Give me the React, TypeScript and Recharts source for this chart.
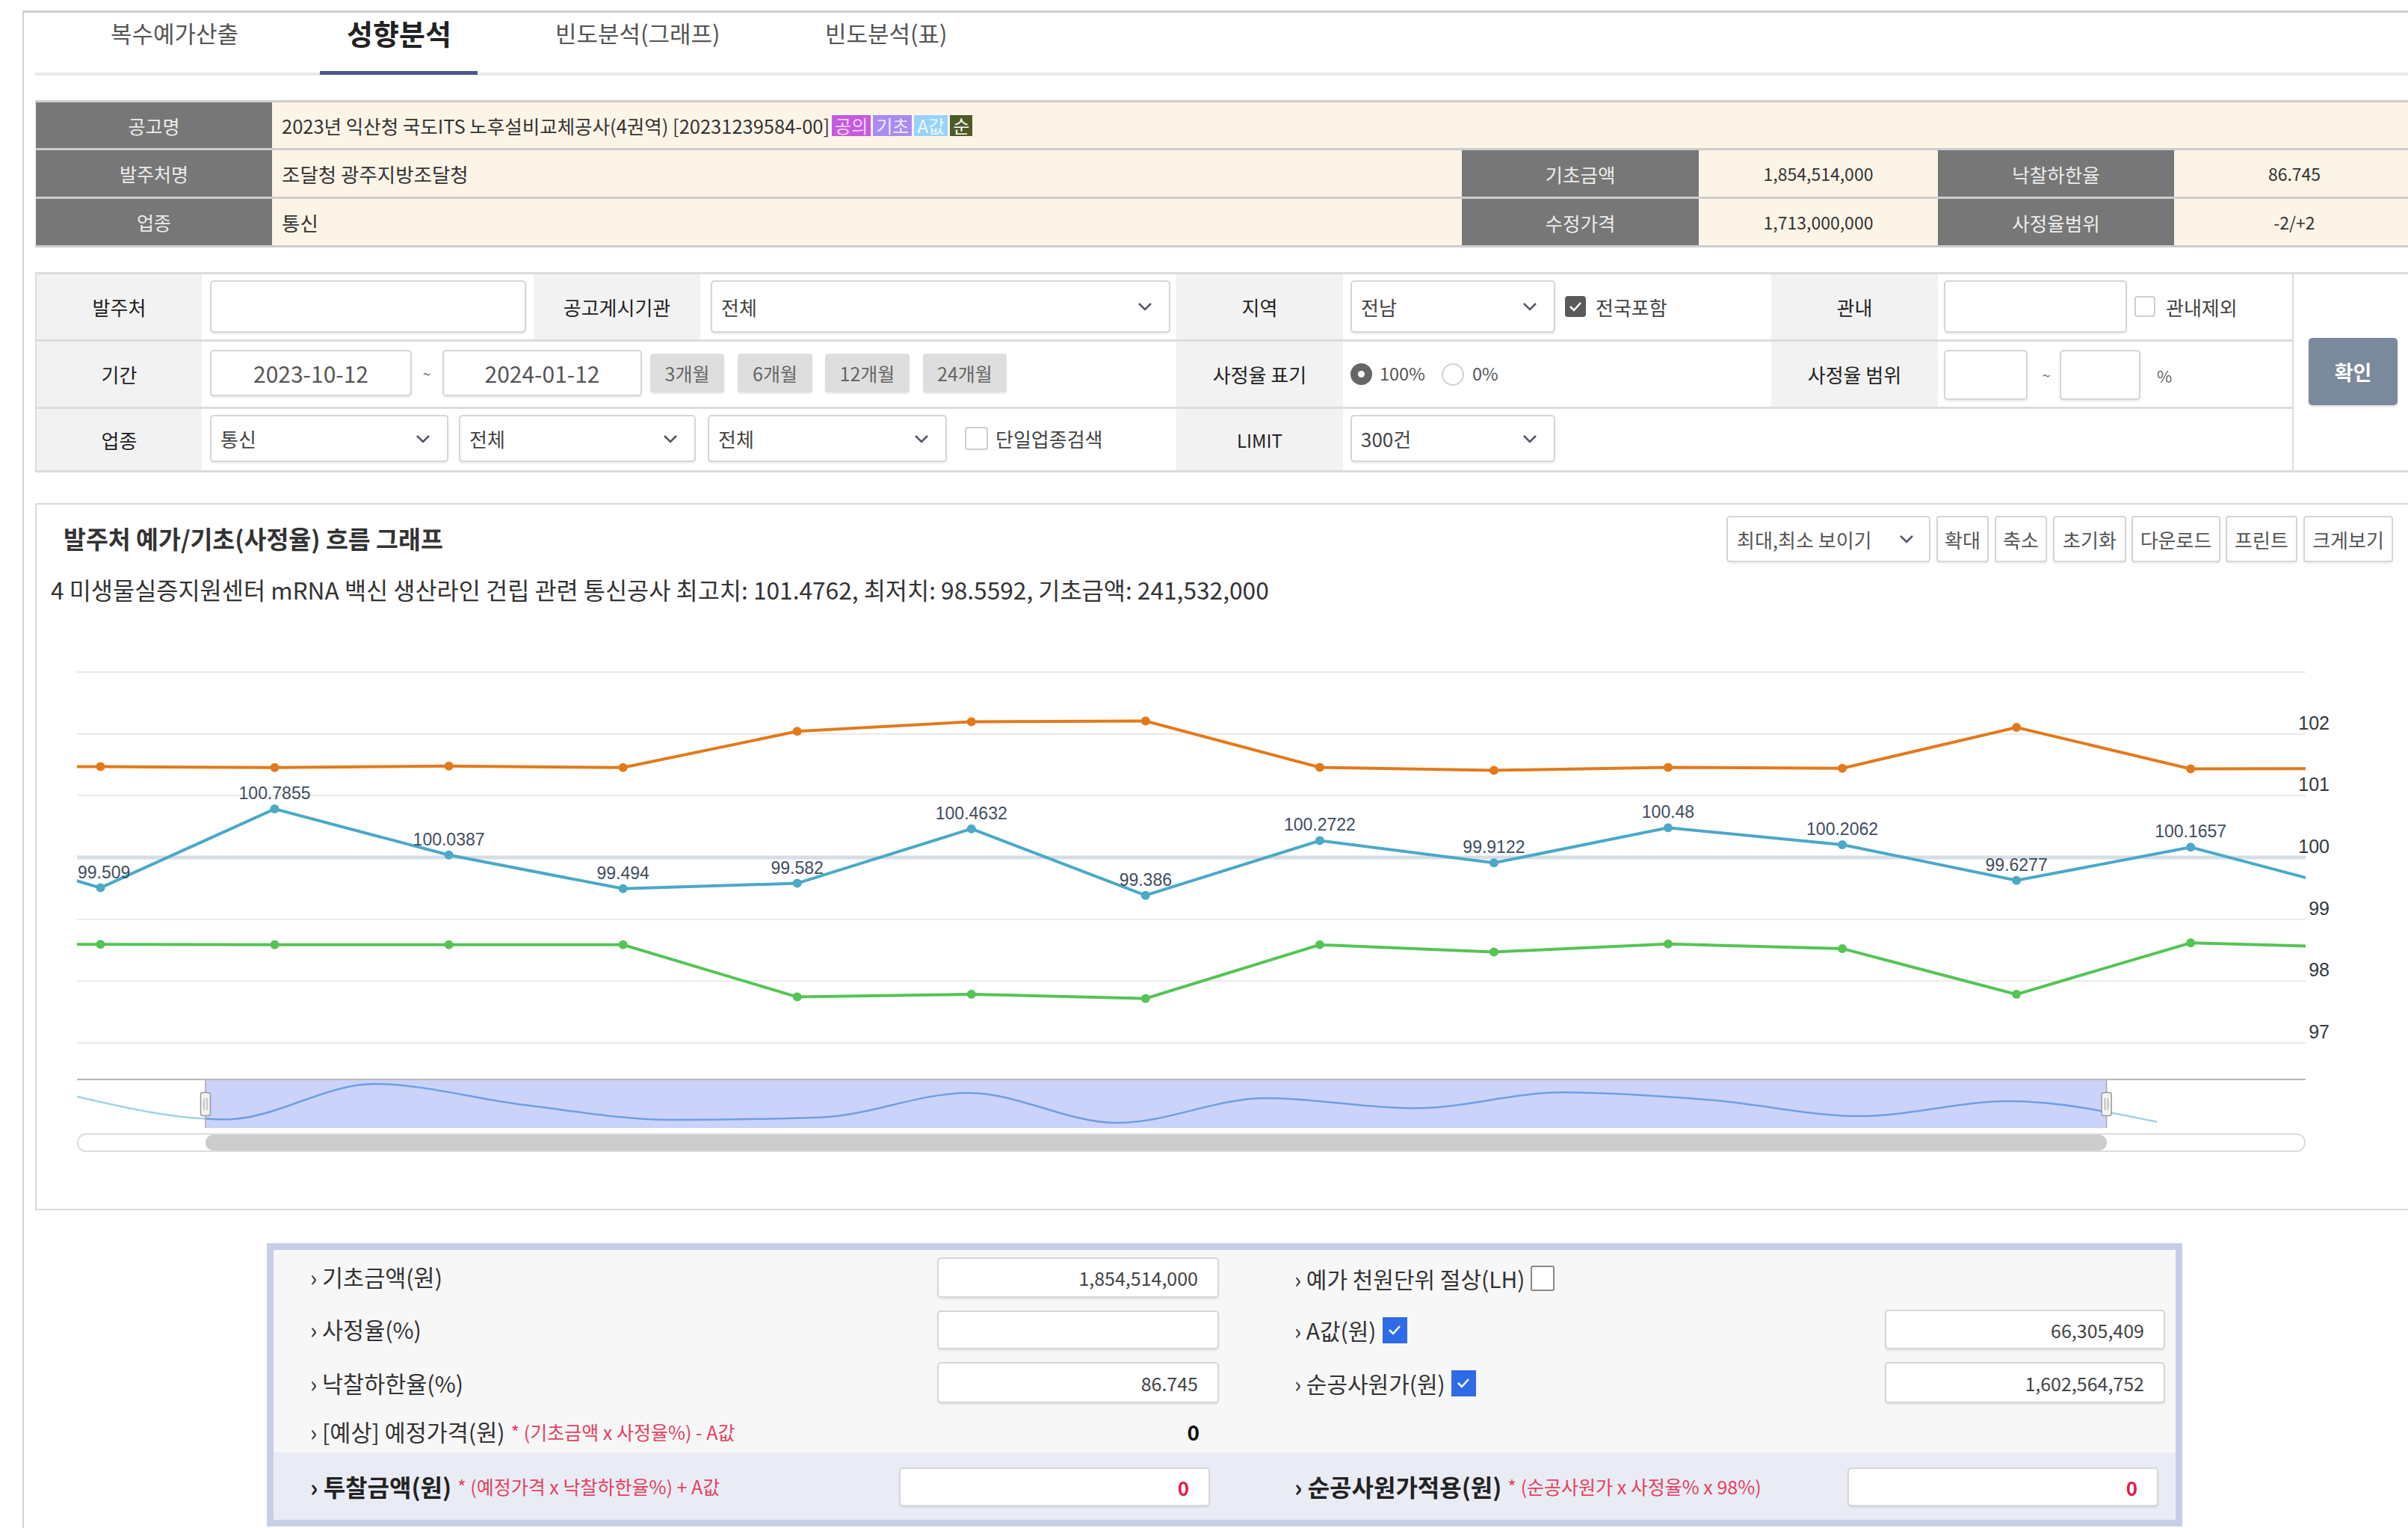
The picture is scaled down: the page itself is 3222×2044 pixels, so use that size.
import React from 'react'
import { LineChart, Line, XAxis, YAxis, CartesianGrid, ReferenceLine, ReferenceArea, LabelList } from 'recharts'

// 순번 (0, 14 는 화면 밖 - 네비게이터로만 보임)
const seq = [0, 1, 2, 3, 4, 5, 6, 7, 8, 9, 10, 11, 12, 13, 14]
// 최고 사정율
const upperRate = [101.47, 101.469, 101.455, 101.478, 101.455, 102.04, 102.196, 102.207, 101.458, 101.41, 101.458, 101.443, 102.105, 101.433, 101.44]
// 사정율
const rate = [100.33, 99.509, 100.7855, 100.0387, 99.494, 99.582, 100.4632, 99.386, 100.2722, 99.9122, 100.48, 100.2062, 99.6277, 100.1657, 99.42]
// 최저 사정율
const lowerRate = [98.59, 98.593, 98.587, 98.587, 98.587, 97.743, 97.785, 97.717, 98.587, 98.47, 98.6, 98.525, 97.785, 98.618, 98.54]
const yTicks = [97, 98, 99, 100, 101, 102, 103]

// 네비게이터 선택 구간
const viewStart = 0.865
const viewEnd = 13.66
const navEnd = 15

const chartData = seq.map((s, i) => ({ s, upper: upperRate[i], rate: rate[i], lower: lowerRate[i] }))

const FONT = "'Noto Sans CJK KR', 'Noto Sans', sans-serif"
const NUM_FONT = "'Liberation Sans', Arial, sans-serif"

const PLOT_LEFT = 103
const PLOT_TOP = 899
const PLOT_W = 2982
const PLOT_H = 496
const AXIS_W = 137

const ORANGE = '#e27a1c'
const BLUE = '#4ba9c6'
const GREEN = '#55c455'

type BoxProps = { l: number; t: number; w?: number; h?: number; style?: React.CSSProperties; children?: React.ReactNode }

const Box = ({ l, t, w, h, style, children }: BoxProps) => (
    <div style={{ position: 'absolute', left: l, top: t, width: w, height: h, boxSizing: 'border-box', ...style }}>{children}</div>
)

type CellProps = BoxProps & { align?: 'left' | 'center' | 'right'; size?: number; color?: string; bg?: string; pad?: number; weight?: number }

const Cell = ({ l, t, w, h, align = 'center', size = 24, color = '#333', bg, pad = 0, weight, style, children }: CellProps) => (
    <Box l={l} t={t} w={w} h={h} style={{
        display: 'flex',
        alignItems: 'center',
        justifyContent: align === 'center' ? 'center' : align === 'right' ? 'flex-end' : 'flex-start',
        fontSize: size,
        color,
        background: bg,
        padding: `0 ${pad}px`,
        fontWeight: weight,
        whiteSpace: 'nowrap',
        ...style,
    }}>{children}</Box>
)

const Chevron = () => (
    <svg width='20' height='12' viewBox='0 0 20 12'>
        <polyline points='2,2 10,10 18,2' fill='none' stroke='#556' strokeWidth='2.5' />
    </svg>
)

const inputStyle: React.CSSProperties = {
    background: '#fff',
    border: '2px solid #d6d6d6',
    borderRadius: 5,
    boxShadow: '0 2px 2px rgba(0,0,0,0.08)',
}

const Input = (p: CellProps) => <Cell {...p} style={{ ...inputStyle, ...p.style }} />

const Select = ({ l, t, w, h, text }: { l: number; t: number; w: number; h: number; text: string }) => (
    <Cell l={l} t={t} w={w} h={h} align='left' pad={12} size={26} color='#444' style={{ ...inputStyle, justifyContent: 'space-between', paddingRight: 22 }}>
        <span>{text}</span>
        <Chevron />
    </Cell>
)

const CheckMark = () => (
    <svg width='18' height='14' viewBox='0 0 18 14'>
        <polyline points='2,7 7,12 16,2' fill='none' stroke='#fff' strokeWidth='2.5' />
    </svg>
)

const Check = ({ l, t, size = 30, on, color = '#5a5a5a' }: { l: number; t: number; size?: number; on?: boolean; color?: string }) => (
    <Box l={l} t={t} w={size} h={size} style={{
        borderRadius: 4,
        border: on ? 'none' : '2px solid #cfcfcf',
        background: on ? color : '#fff',
        display: 'flex',
        alignItems: 'center',
        justifyContent: 'center',
    }}>{on ? <CheckMark /> : null}</Box>
)

const Button = ({ l, t, w, h, text }: { l: number; t: number; w: number; h: number; text: string }) => (
    <Cell l={l} t={t} w={w} h={h} size={26} color='#555' style={{ ...inputStyle, borderRadius: 4 }}>{text}</Cell>
)

const renderYTick = (props: any) => {
    const { y, payload } = props
    if (payload.value === 103) return <g />
    return (
        <text x={PLOT_W + 32} y={y - 6} textAnchor='end' fontSize={25} fill='#333840' fontFamily={NUM_FONT}>
            {payload.value}
        </text>
    )
}

const renderRateLabel = (props: any) => {
    const { x, y, value } = props
    if (x < 0 || x > PLOT_W) return null
    const w = String(value).length * 12.8 - 6
    const left = x - w / 2 < 1
    return (
        <text x={left ? 1 : x} y={y - 13} textAnchor={left ? 'start' : 'middle'} fontSize={23} fill='#3f4d5f' fontFamily={NUM_FONT}>
            {value}
        </text>
    )
}

const renderHandle = (p: any) => {
    const x = p.x1
    const top = Math.min(p.y1, p.y2)
    const bottom = Math.max(p.y1, p.y2)
    const mid = (top + bottom) / 2
    return (
        <g>
            <line x1={x} x2={x} y1={top} y2={bottom} stroke='#a8a8a8' strokeWidth={1.5} />
            <rect x={x - 6.5} y={mid - 15.5} width={13} height={31} rx={3} fill='#f2f2f2' stroke='#999' strokeWidth={1.5} />
            <line x1={x - 2} x2={x - 2} y1={mid - 8} y2={mid + 8} stroke='#999' strokeWidth={1} />
            <line x1={x + 2} x2={x + 2} y1={mid - 8} y2={mid + 8} stroke='#999' strokeWidth={1} />
        </g>
    )
}

const MainChart = () => (
    <div style={{ position: 'absolute', left: PLOT_LEFT, top: PLOT_TOP - 10 }}>
        <LineChart width={PLOT_W + AXIS_W} height={PLOT_H + 20} data={chartData} margin={{ top: 10, right: 0, bottom: 10, left: 0 }}>
            <CartesianGrid vertical={false} stroke='#e9e9e9' strokeWidth={2} />
            <XAxis dataKey='s' type='number' domain={[viewStart, viewEnd]} allowDataOverflow hide />
            <YAxis orientation='right' domain={[97, 103]} ticks={yTicks} interval={0} width={AXIS_W} axisLine={false} tickLine={false} tick={renderYTick} />
            <ReferenceLine y={100} stroke='#d6dde6' strokeWidth={5} />
            <Line dataKey='upper' stroke={ORANGE} strokeWidth={4} dot={{ r: 6, fill: ORANGE, stroke: ORANGE, strokeWidth: 0 }} isAnimationActive={false} />
            <Line dataKey='lower' stroke={GREEN} strokeWidth={4} dot={{ r: 6, fill: GREEN, stroke: GREEN, strokeWidth: 0 }} isAnimationActive={false} />
            <Line dataKey='rate' stroke={BLUE} strokeWidth={4} dot={{ r: 6, fill: BLUE, stroke: BLUE, strokeWidth: 0 }} isAnimationActive={false}>
                <LabelList dataKey='rate' content={renderRateLabel} />
            </Line>
        </LineChart>
    </div>
)

const NavChart = () => {
    const a = viewStart / navEnd
    const b = viewEnd / navEnd
    return (
        <div style={{ position: 'absolute', left: PLOT_LEFT, top: 1445 }}>
            <LineChart width={PLOT_W} height={64} data={chartData} margin={{ top: 0, right: 0, bottom: 0, left: 0 }}>
                <defs>
                    <linearGradient id='navStroke' gradientUnits='userSpaceOnUse' x1='0' y1='0' x2={PLOT_W} y2='0'>
                        <stop offset={0} stopColor='#9fd4e4' />
                        <stop offset={a} stopColor='#9fd4e4' />
                        <stop offset={a} stopColor='#6f9fe0' />
                        <stop offset={b} stopColor='#6f9fe0' />
                        <stop offset={b} stopColor='#9fd4e4' />
                        <stop offset={1} stopColor='#9fd4e4' />
                    </linearGradient>
                </defs>
                <XAxis dataKey='s' type='number' domain={[0, navEnd]} hide />
                <YAxis domain={[99.2, 100.92]} hide />
                <ReferenceArea x1={viewStart} x2={viewEnd} fill='#cbd3fa' fillOpacity={1} stroke='none' />
                <Line type='monotone' dataKey='rate' stroke='url(#navStroke)' strokeWidth={2.5} dot={false} isAnimationActive={false} />
                <ReferenceLine x={viewStart} shape={renderHandle} />
                <ReferenceLine x={viewEnd} shape={renderHandle} />
            </LineChart>
        </div>
    )
}

const tabs = [
    { label: '복수예가산출', x: 148 },
    { label: '성향분석', x: 464, active: true },
    { label: '빈도분석(그래프)', x: 743 },
    { label: '빈도분석(표)', x: 1104 },
]

const DARK = '#777777'
const CREAM = '#fdf4e8'
const LABEL_BG = '#f2f2f2'
const RED = '#e5405e'

const Badge = ({ text, bg, color }: { text: string; bg: string; color: string }) => (
    <span style={{ background: bg, color, fontSize: 24, padding: '0 4px', marginLeft: 3, lineHeight: '28px', display: 'inline-block' }}>{text}</span>
)

const BlueCheck = () => (
    <span style={{ display: 'inline-flex', alignItems: 'center', justifyContent: 'center', width: 33, height: 35, background: '#2f6be6', marginLeft: 8 }}><CheckMark /></span>
)

export default function App() {
    const navA = viewStart / navEnd
    const navB = viewEnd / navEnd
    return (
        <div style={{ position: 'absolute', left: 0, top: 0, width: 3222, height: 2044, background: '#fff', overflow: 'hidden', fontFamily: FONT, color: '#333' }}>
            {/* frame */}
            <Box l={30} t={14} w={3192} h={2030} style={{ borderTop: '3px solid #cccccc', borderLeft: '2px solid #d2d2d2' }} />

            {/* tabs */}
            {tabs.map((t) => (
                <Box key={t.label} l={t.x} t={20} h={48} style={{
                    fontSize: t.active ? 38 : 31,
                    fontWeight: t.active ? 700 : 400,
                    color: t.active ? '#222' : '#555',
                    lineHeight: '48px',
                    whiteSpace: 'nowrap',
                }}>{t.label}</Box>
            ))}
            <Box l={47} t={97} w={3175} h={4} style={{ background: '#e9e9e9' }} />
            <Box l={428} t={95} w={211} h={5} style={{ background: '#4b5791' }} />

            {/* info table */}
            <Box l={47} t={136} w={3175} h={194} style={{ background: CREAM }} />
            {[134, 198, 263, 328].map((y) => (
                <Box key={y} l={47} t={y} w={3175} h={3} style={{ background: '#cdcdcd' }} />
            ))}
            <Cell l={48} t={137} w={316} h={61} bg={DARK} color='#ececec' size={25}>공고명</Cell>
            <Cell l={48} t={201} w={316} h={62} bg={DARK} color='#ececec' size={25}>발주처명</Cell>
            <Cell l={48} t={266} w={316} h={62} bg={DARK} color='#ececec' size={25}>업종</Cell>
            <Cell l={377} t={137} h={61} align='left' size={25.5} color='#333'>
                2023년 익산청 국도ITS 노후설비교체공사(4권역) [20231239584-00]
                <Badge text='공의' bg='#c35be0' color='#f5d6ff' />
                <Badge text='기초' bg='#a98bf2' color='#f1eaff' />
                <Badge text='A값' bg='#98d2fb' color='#ecf8ff' />
                <Badge text='순' bg='#4d5b26' color='#ffffff' />
            </Cell>
            <Cell l={377} t={201} h={62} align='left' size={26.5}>조달청 광주지방조달청</Cell>
            <Cell l={377} t={266} h={62} align='left' size={26.5}>통신</Cell>
            <Cell l={1956} t={201} w={317} h={62} bg={DARK} color='#ececec' size={25.5}>기초금액</Cell>
            <Cell l={2273} t={201} w={320} h={62} size={23}>1,854,514,000</Cell>
            <Cell l={2593} t={201} w={316} h={62} bg={DARK} color='#ececec' size={25.5}>낙찰하한율</Cell>
            <Cell l={2909} t={201} w={322} h={62} size={23}>86.745</Cell>
            <Cell l={1956} t={266} w={317} h={62} bg={DARK} color='#ececec' size={25.5}>수정가격</Cell>
            <Cell l={2273} t={266} w={320} h={62} size={23}>1,713,000,000</Cell>
            <Cell l={2593} t={266} w={316} h={62} bg={DARK} color='#ececec' size={25.5}>사정율범위</Cell>
            <Cell l={2909} t={266} w={322} h={62} size={23}>-2/+2</Cell>

            {/* search form */}
            {[364, 454, 544, 629].map((y) => (
                <Box key={y} l={47} t={y} w={y === 364 || y === 629 ? 3175 : 3021} h={3} style={{ background: '#dcdcdc' }} />
            ))}
            <Box l={3067} t={364} w={2} h={268} style={{ background: '#dcdcdc' }} />
            <Box l={47} t={364} w={2} h={268} style={{ background: '#dcdcdc' }} />
            <Cell l={49} t={367} w={221} h={87} bg={LABEL_BG} size={26} color='#222'>발주처</Cell>
            <Cell l={714} t={367} w={223} h={87} bg={LABEL_BG} size={26} color='#222'>공고게시기관</Cell>
            <Cell l={1574} t={367} w={223} h={87} bg={LABEL_BG} size={26} color='#222'>지역</Cell>
            <Cell l={2370} t={367} w={223} h={87} bg={LABEL_BG} size={26} color='#222'>관내</Cell>
            <Cell l={49} t={457} w={221} h={87} bg={LABEL_BG} size={26} color='#222'>기간</Cell>
            <Cell l={1574} t={457} w={223} h={87} bg={LABEL_BG} size={26} color='#222'>사정율 표기</Cell>
            <Cell l={2370} t={457} w={223} h={87} bg={LABEL_BG} size={26} color='#222'>사정율 범위</Cell>
            <Cell l={49} t={547} w={221} h={82} bg={LABEL_BG} size={26} color='#222'>업종</Cell>
            <Cell l={1574} t={547} w={223} h={82} bg={LABEL_BG} size={24} color='#222'>LIMIT</Cell>

            <Input l={281} t={375} w={423} h={70} />
            <Select l={951} t={375} w={615} h={70} text='전체' />
            <Select l={1807} t={375} w={274} h={70} text='전남' />
            <Check l={2094} t={396} size={28} on />
            <Cell l={2135} t={375} h={70} align='left' size={26} color='#444'>전국포함</Cell>
            <Input l={2601} t={375} w={245} h={70} />
            <Check l={2856} t={396} size={28} />
            <Cell l={2898} t={375} h={70} align='left' size={26} color='#444'>관내제외</Cell>

            <Input l={281} t={468} w={270} h={62} size={30} color='#555'>2023-10-12</Input>
            <Cell l={558} t={468} w={26} h={62} size={20} color='#777'>~</Cell>
            <Input l={592} t={468} w={267} h={62} size={30} color='#555'>2024-01-12</Input>
            {[
                ['3개월', 870, 99],
                ['6개월', 987, 100],
                ['12개월', 1104, 113],
                ['24개월', 1235, 112],
            ].map(([t, x, w]) => (
                <Cell key={t as string} l={x as number} t={473} w={w as number} h={52} size={25} color='#666' bg='#dedede' style={{ borderRadius: 4, boxShadow: '0 2px 2px rgba(0,0,0,0.08)' }}>{t}</Cell>
            ))}
            <Box l={1807} t={486} w={29} h={29} style={{ borderRadius: '50%', background: '#666', display: 'flex', alignItems: 'center', justifyContent: 'center' }}>
                <div style={{ width: 9, height: 9, borderRadius: '50%', background: '#fff' }} />
            </Box>
            <Cell l={1846} t={468} h={62} align='left' size={23.5} color='#555'>100%</Cell>
            <Box l={1929} t={486} w={30} h={30} style={{ borderRadius: '50%', border: '2px solid #d0d0d0', background: '#fff' }} />
            <Cell l={1970} t={468} h={62} align='left' size={23.5} color='#555'>0%</Cell>
            <Input l={2601} t={468} w={112} h={67} />
            <Cell l={2726} t={468} w={24} h={67} size={20} color='#777'>~</Cell>
            <Input l={2756} t={468} w={108} h={67} />
            <Cell l={2886} t={468} h={67} align='left' size={22} color='#666'>%</Cell>

            <Select l={281} t={555} w={319} h={63} text='통신' />
            <Select l={614} t={555} w={317} h={63} text='전체' />
            <Select l={947} t={555} w={320} h={63} text='전체' />
            <Check l={1291} t={571} size={31} />
            <Cell l={1332} t={555} h={63} align='left' size={26} color='#444'>단일업종검색</Cell>
            <Select l={1807} t={555} w={274} h={63} text='300건' />

            <Cell l={3089} t={452} w={119} h={90} size={27} weight={700} color='#fff' bg='#7b899d' style={{ borderRadius: 5, boxShadow: '0 2px 3px rgba(0,0,0,0.15)' }}>확인</Cell>

            {/* chart panel */}
            <Box l={47} t={673} w={3175} h={946} style={{ border: '2px solid #dadada', borderRight: 'none' }} />
            <Cell l={85} t={694} h={50} align='left' size={32.5} weight={700} color='#333'>발주처 예가/기초(사정율) 흐름 그래프</Cell>
            <Cell l={68} t={764} h={48} align='left' size={31.7} color='#333'>4 미생물실증지원센터 mRNA 백신 생산라인 건립 관련 통신공사 최고치: 101.4762, 최저치: 98.5592, 기초금액: 241,532,000</Cell>
            <Cell l={2310} t={690} w={273} h={62} align='left' pad={12} size={26} color='#555' style={{ ...inputStyle, justifyContent: 'space-between', paddingRight: 20 }}>
                <span>최대,최소 보이기</span>
                <Chevron />
            </Cell>
            <Button l={2591} t={690} w={70} h={62} text='확대' />
            <Button l={2669} t={690} w={70} h={62} text='축소' />
            <Button l={2747} t={690} w={98} h={62} text='초기화' />
            <Button l={2852} t={690} w={119} h={62} text='다운로드' />
            <Button l={2978} t={690} w={96} h={62} text='프린트' />
            <Button l={3082} t={690} w={120} h={62} text='크게보기' />

            <MainChart />

            {/* navigator + scrollbar */}
            <Box l={PLOT_LEFT} t={1443} w={PLOT_W} h={2} style={{ background: '#b8b8b8' }} />
            <NavChart />
            <Box l={PLOT_LEFT} t={1516} w={PLOT_W} h={25} style={{ border: '2px solid #dcdcdc', borderRadius: 12, background: '#fff' }} />
            <Box l={PLOT_LEFT + navA * PLOT_W} t={1518} w={(navB - navA) * PLOT_W} h={21} style={{ background: '#cccccc', borderRadius: 10 }} />

            {/* calculator panel */}
            <Box l={357} t={1663} w={2563} h={379} style={{ border: '9px solid #c9cee7', background: '#f7f7f7' }} />
            <Box l={366} t={1943} w={2545} h={90} style={{ background: '#e9ecf4' }} />

            <Cell l={415} t={1684} h={48} align='left' size={30.5}>› 기초금액(원)</Cell>
            <Input l={1254} t={1682} w={377} h={54} align='right' pad={26} size={25} color='#444'>1,854,514,000</Input>
            <Cell l={415} t={1754} h={48} align='left' size={30.5}>› 사정율(%)</Cell>
            <Input l={1254} t={1753} w={377} h={52} />
            <Cell l={415} t={1826} h={48} align='left' size={30.5}>› 낙찰하한율(%)</Cell>
            <Input l={1254} t={1822} w={377} h={55} align='right' pad={26} size={25} color='#444'>86.745</Input>
            <Cell l={415} t={1891} h={48} align='left' size={30.5}>
                › [예상] 예정가격(원)
                <span style={{ color: RED, fontSize: 25, marginLeft: 8 }}>* (기초금액 x 사정율%) - A값</span>
            </Cell>
            <Cell l={1560} t={1891} w={45} h={48} align='right' size={28} weight={700} color='#111'>0</Cell>
            <Cell l={415} t={1964} h={48} align='left' size={32} weight={700} color='#222'>
                › 투찰금액(원)
                <span style={{ color: RED, fontSize: 25, fontWeight: 400, marginLeft: 8 }}>* (예정가격 x 낙찰하한율%) + A값</span>
            </Cell>
            <Input l={1203} t={1963} w={416} h={52} align='right' pad={26} size={26} weight={700} color='#e01e4a'>0</Input>

            <Cell l={1732} t={1686} h={48} align='left' size={30}>
                › 예가 천원단위 절상(LH)
                <span style={{ display: 'inline-block', width: 32, height: 34, border: '2px solid #888', borderRadius: 3, background: '#fff', marginLeft: 8, boxSizing: 'border-box' }} />
            </Cell>
            <Cell l={1732} t={1755} h={48} align='left' size={30}>
                › A값(원)
                <BlueCheck />
            </Cell>
            <Input l={2522} t={1752} w={375} h={53} align='right' pad={26} size={25} color='#444'>66,305,409</Input>
            <Cell l={1732} t={1826} h={48} align='left' size={30}>
                › 순공사원가(원)
                <BlueCheck />
            </Cell>
            <Input l={2522} t={1822} w={375} h={55} align='right' pad={26} size={25} color='#444'>1,602,564,752</Input>
            <Cell l={1732} t={1964} h={48} align='left' size={32} weight={700} color='#222'>
                › 순공사원가적용(원)
                <span style={{ color: RED, fontSize: 25, fontWeight: 400, marginLeft: 8 }}>* (순공사원가 x 사정율% x 98%)</span>
            </Cell>
            <Input l={2472} t={1963} w={416} h={52} align='right' pad={26} size={26} weight={700} color='#e01e4a'>0</Input>
        </div>
    )
}
